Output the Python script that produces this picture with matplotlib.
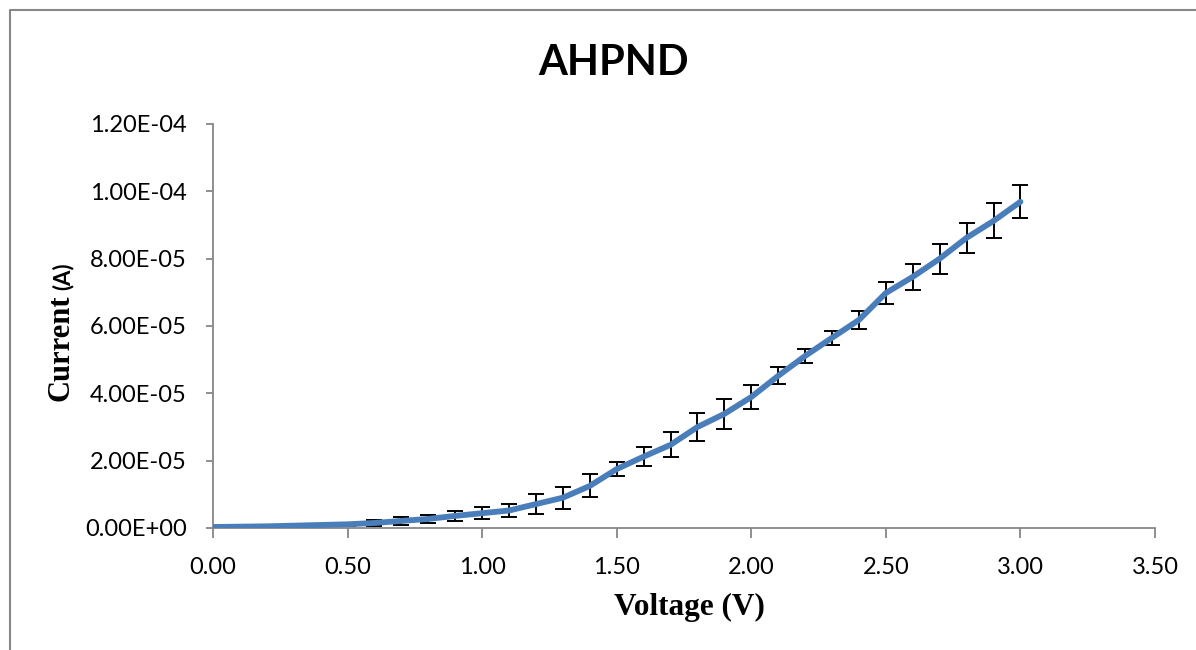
import matplotlib.pyplot as plt
from matplotlib.lines import Line2D
from matplotlib.ticker import FuncFormatter

voltage = [0.0, 0.1, 0.2, 0.3, 0.4, 0.5, 0.6, 0.7, 0.8, 0.9, 1.0,
           1.1, 1.2, 1.3, 1.4, 1.5, 1.6, 1.7, 1.8, 1.9, 2.0,
           2.1, 2.2, 2.3, 2.4, 2.5, 2.6, 2.7, 2.8, 2.9, 3.0]
current = [3e-7, 4e-7, 5e-7, 7e-7, 9e-7, 1.1e-6, 1.5e-6, 2.1e-6, 2.7e-6, 3.6e-6, 4.4e-6,
           5.2e-6, 7.1e-6, 9.0e-6, 1.25e-5, 1.75e-5, 2.12e-5, 2.47e-5, 3.0e-5, 3.39e-5, 3.89e-5,
           4.52e-5, 5.11e-5, 5.65e-5, 6.18e-5, 6.98e-5, 7.46e-5, 8.0e-5, 8.62e-5, 9.12e-5, 9.69e-5]
error = [0, 0, 0, 0, 0, 5e-7, 9e-7, 1.1e-6, 1.3e-6, 1.5e-6, 1.8e-6,
         1.8e-6, 3.0e-6, 3.3e-6, 3.4e-6, 2.1e-6, 2.9e-6, 3.7e-6, 4.2e-6, 4.5e-6, 3.6e-6,
         2.5e-6, 2.0e-6, 2.0e-6, 2.7e-6, 3.2e-6, 3.9e-6, 4.5e-6, 4.4e-6, 5.2e-6, 4.9e-6]

W, H = 1196, 650
fig = plt.figure(figsize=(W / 100, H / 100), dpi=100)
ax = fig.add_axes([213 / W, 1 - 528 / H, (1155 - 213) / W, (528 - 124) / H])

# outer chart border (top and left only visible)
gray = '#878787'
fig.add_artist(Line2D([10 / W, 10 / W, 1.0], [0.0, 1 - 10 / H, 1 - 10 / H],
                      transform=fig.transFigure, color=gray, lw=1.5))

ax.errorbar(voltage, current, yerr=error, fmt='none', ecolor='black',
            elinewidth=1.4, capsize=6, capthick=1.4, zorder=2)
ax.plot(voltage, current, color='#4A7EBB', lw=4.2, solid_capstyle='round', zorder=3)

ax.set_xlim(0, 3.5)
ax.set_ylim(0, 1.2e-4)
ax.set_xticks([0, 0.5, 1.0, 1.5, 2.0, 2.5, 3.0, 3.5])
ax.set_yticks([0, 2e-5, 4e-5, 6e-5, 8e-5, 1e-4, 1.2e-4])
ax.xaxis.set_major_formatter(FuncFormatter(lambda v, p: f'{v:.2f}'))
ax.yaxis.set_major_formatter(FuncFormatter(lambda v, p: f'{v:.2E}'))

for s in ['top', 'right']:
    ax.spines[s].set_visible(False)
for s in ['left', 'bottom']:
    ax.spines[s].set_color(gray)
    ax.spines[s].set_linewidth(1.3)
ax.tick_params(axis='both', colors=gray, labelcolor='black', width=1.3,
               direction='out', labelsize=17)
ax.tick_params(axis='y', length=5, pad=14)
ax.tick_params(axis='x', length=7, pad=14)
for lab in ax.get_xticklabels() + ax.get_yticklabels():
    lab.set_family('Lato')

fig.text(614 / W, 1 - 63 / H, 'AHPND', ha='center', va='center',
         family='Lato', weight='bold', fontsize=30)
fig.text(689 / W, 1 - 607 / H, 'Voltage (V)', ha='center', va='center',
         family='Liberation Serif', weight='bold', fontsize=22.5)
fig.text(61 / W, 1 - 401 / H, 'Current', ha='center', va='bottom', rotation=90,
         family='Liberation Serif', weight='bold', fontsize=22)
fig.text(63 / W, 1 - 290 / H, '(A)', ha='center', va='bottom', rotation=90,
         family='Lato', weight='bold', fontsize=16)

fig.savefig('out.png', dpi=100)
